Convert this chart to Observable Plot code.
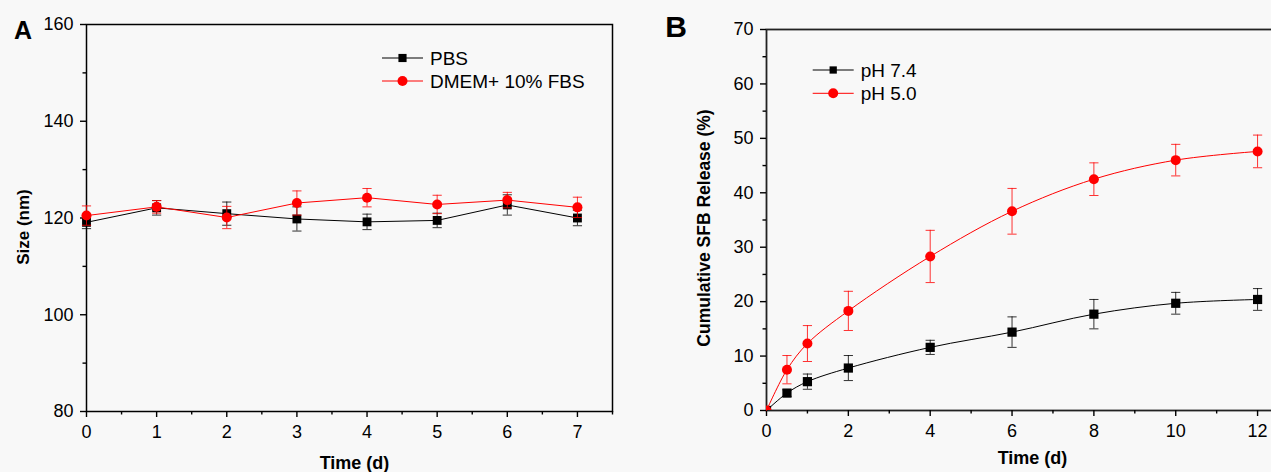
<!DOCTYPE html>
<html>
<head>
<meta charset="utf-8">
<script src="https://cdn.jsdelivr.net/npm/d3@7"></script>
<script src="https://cdn.jsdelivr.net/npm/@observablehq/plot@0.6"></script>
<style>
  html, body { margin: 0; padding: 0; background: #ffffff; overflow: hidden; }
  #fig { position: relative; width: 1271px; height: 472px; overflow: hidden; background: #f8f8f8; }
  #fig > svg { position: absolute; top: 0; }
</style>
</head>
<body>
<div id="fig"></div>
<script>
// Panel A: particle size stability over one week
const daysA = [0, 1, 2, 3, 4, 5, 6, 7];
const pbsSize = [119.1, 122.1, 120.9, 119.8, 119.2, 119.5, 122.7, 120.0];
const pbsErr = [1.3, 1.5, 2.4, 2.5, 1.6, 1.5, 2.1, 1.6];
const dmemSize = [120.5, 122.3, 120.1, 123.1, 124.2, 122.8, 123.7, 122.2];
const dmemErr = [2.0, 1.3, 2.3, 2.5, 1.9, 1.9, 1.6, 2.1];
const seriesA = ["PBS", "DMEM+ 10% FBS"];
const ticksAx = [0, 1, 2, 3, 4, 5, 6, 7];
const minorAx = [0.5, 1.5, 2.5, 3.5, 4.5, 5.5, 6.5, 7.5];
const ticksAy = [80, 100, 120, 140, 160];
const minorAy = [90, 110, 130, 150];

// Panel B: cumulative SFB release at two pH values
const daysB = [0, 0.5, 1, 2, 4, 6, 8, 10, 12];
const ph74 = [0, 3.2, 5.3, 7.8, 11.6, 14.4, 17.7, 19.7, 20.4];
const ph74Err = [0, 0.6, 1.4, 2.3, 1.3, 2.8, 2.7, 2.0, 2.0];
const ph50 = [0, 7.5, 12.3, 18.3, 28.3, 36.6, 42.5, 46.0, 47.6];
const ph50Err = [0, 2.6, 3.3, 3.6, 4.8, 4.2, 3.0, 2.9, 3.0];
const seriesB = ["pH 7.4", "pH 5.0"];
const ticksBx = [0, 2, 4, 6, 8, 10, 12];
const minorBx = [1, 3, 5, 7, 9, 11, 13];
const ticksBy = [0, 10, 20, 30, 40, 50, 60, 70];
const minorBy = [5, 15, 25, 35, 45, 55, 65];

const FONT = "'Liberation Sans', Arial, sans-serif";
const BLACK = "#000000";
const RED = "#ff0000";

// horizontal cap for the error bars (width follows r)
const capSymbol = {
  draw(ctx, size) {
    const r = Math.sqrt(size / Math.PI);
    ctx.moveTo(-r, 0);
    ctx.lineTo(r, 0);
  }
};

function rows(days, values, errs) {
  return days.map((d, i) => ({day: days[i], value: values[i], err: errs[i]}));
}

function seriesMarks(data, color, symbol, r, curve, clip) {
  const withErr = data.filter(d => d.err > 0);
  return [
    Plot.line(data, {x: "day", y: "value", stroke: color, strokeWidth: 1, curve}),
    Plot.ruleX(withErr, {x: "day", y1: d => d.value - d.err, y2: d => d.value + d.err, stroke: color, strokeWidth: 1, strokeOpacity: 0.8}),
    Plot.dot(withErr, {x: "day", y: d => d.value + d.err, symbol: capSymbol, r: 4.6, stroke: color, fill: "none", strokeWidth: 1, strokeOpacity: 0.8}),
    Plot.dot(withErr, {x: "day", y: d => d.value - d.err, symbol: capSymbol, r: 4.6, stroke: color, fill: "none", strokeWidth: 1, strokeOpacity: 0.8}),
    Plot.dot(data, {x: "day", y: "value", symbol, r, fill: color, stroke: "none", clip})
  ];
}

function axes(xMajor, xMinor, yMajor, yMinor) {
  const common = {fontSize: 18, strokeWidth: 1.4, label: null, fill: BLACK, stroke: BLACK};
  return [
    Plot.axisX({...common, ticks: xMajor, tickSize: 6, tickPadding: 8, tickFormat: d => String(d)}),
    Plot.axisX({...common, ticks: xMinor, tickSize: 3.5, tickFormat: () => ""}),
    Plot.axisY({...common, ticks: yMajor, tickSize: 6, tickPadding: 7, tickFormat: d => String(d)}),
    Plot.axisY({...common, ticks: yMinor, tickSize: 3.5, tickFormat: () => ""})
  ];
}

function addLegend(svg, entries, x0, y0, gap) {
  const g = d3.select(svg).append("g")
    .attr("font-family", FONT).attr("font-size", 19).attr("text-anchor", "start");
  entries.forEach((e, i) => {
    const y = y0 + i * gap;
    g.append("line").attr("x1", x0).attr("x2", x0 + 41).attr("y1", y).attr("y2", y)
      .attr("stroke", e.color).attr("stroke-width", 1);
    g.append("path")
      .attr("d", d3.symbol(e.symbol === "square" ? d3.symbolSquare : d3.symbolCircle, e.r * e.r * Math.PI)())
      .attr("transform", `translate(${x0 + 20.5},${y})`).attr("fill", e.color);
    g.append("text").attr("x", x0 + 48).attr("y", y).attr("dy", "0.35em")
      .attr("text-anchor", "start").attr("fill", BLACK).text(e.name);
  });
}

const plotStyle = {background: "transparent", maxWidth: "none", overflow: "visible", fontFamily: FONT, fontSize: "18px", color: BLACK};

// ---------- Panel A ----------
const plotA = Plot.plot({
  width: 640, height: 472,
  marginLeft: 86, marginRight: 28, marginTop: 24, marginBottom: 61,
  style: plotStyle,
  x: {domain: [0, 7.5]},
  y: {domain: [80, 160]},
  marks: [
    Plot.frame({stroke: BLACK, strokeWidth: 1.5}),
    ...axes(ticksAx, minorAx, ticksAy, minorAy),
    ...seriesMarks(rows(daysA, pbsSize, pbsErr), BLACK, "square", 5, "linear", false),
    ...seriesMarks(rows(daysA, dmemSize, dmemErr), RED, "circle", 5, "linear", false),
    Plot.text(["Time (d)"], {frameAnchor: "bottom", dx: 5, dy: 52, fontSize: 18, fontWeight: "bold", fill: BLACK, textAnchor: "middle", lineAnchor: "middle"}),
    Plot.text(["Size (nm)"], {frameAnchor: "left", dx: -62.5, dy: 9, rotate: -90, fontSize: 17, fontWeight: "bold", fill: BLACK, textAnchor: "middle", lineAnchor: "middle"}),
    Plot.text(["A"], {frameAnchor: "top-left", dx: -63.5, dy: 6, fontSize: 25, fontWeight: "bold", fill: BLACK, textAnchor: "middle", lineAnchor: "middle"})
  ]
});
plotA.style.left = "0px";
addLegend(plotA, [
  {name: seriesA[0], color: BLACK, symbol: "square", r: 4.6},
  {name: seriesA[1], color: RED, symbol: "circle", r: 5}
], 382, 58, 23);

// ---------- Panel B ----------
const plotB = Plot.plot({
  width: 700, height: 472,
  marginLeft: 126, marginRight: 42, marginTop: 29, marginBottom: 62,
  style: plotStyle,
  x: {domain: [0, 13]},
  y: {domain: [0, 70]},
  marks: [
    Plot.frame({stroke: "#222", strokeWidth: 1.8}),
    ...axes(ticksBx, minorBx, ticksBy, minorBy),
    ...seriesMarks(rows(daysB, ph74, ph74Err), BLACK, "square", 5.2, "catmull-rom", true),
    ...seriesMarks(rows(daysB, ph50, ph50Err), RED, "circle", 5, "catmull-rom", true),
    Plot.text(["Time (d)"], {frameAnchor: "bottom", dx: 0, dy: 48, fontSize: 18, fontWeight: "bold", fill: BLACK, textAnchor: "middle", lineAnchor: "middle"}),
    Plot.text(["Cumulative SFB Release (%)"], {frameAnchor: "left", dx: -62.5, dy: 8, rotate: -90, fontSize: 17.5, fontWeight: "bold", fill: BLACK, textAnchor: "middle", lineAnchor: "middle"}),
    Plot.text(["B"], {frameAnchor: "top-left", dx: -90.5, dy: -2, fontSize: 30, fontWeight: "bold", fill: BLACK, textAnchor: "middle", lineAnchor: "middle"})
  ]
});
plotB.style.left = "640px";
addLegend(plotB, [
  {name: seriesB[0], color: BLACK, symbol: "square", r: 4.1},
  {name: seriesB[1], color: RED, symbol: "circle", r: 5}
], 172.7, 70, 23.3);

document.getElementById("fig").append(plotA, plotB);
</script>
</body>
</html>
